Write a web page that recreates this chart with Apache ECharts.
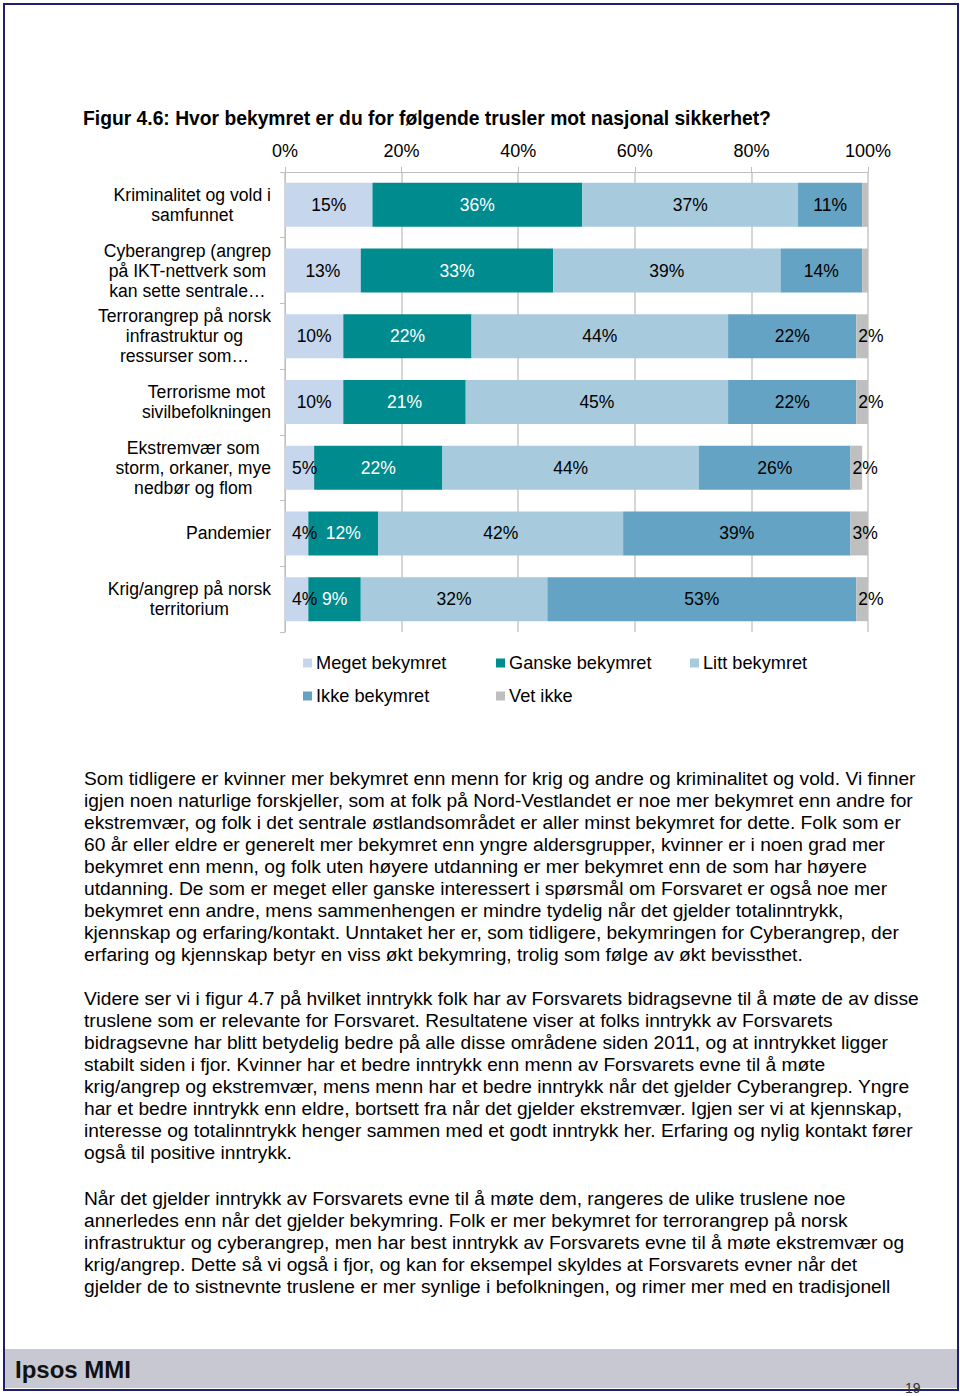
<!DOCTYPE html>
<html>
<head>
<meta charset="utf-8">
<script src="https://cdn.jsdelivr.net/npm/echarts@6/dist/echarts.min.js"></script>
<style>
  html, body { margin: 0; padding: 0; background: #fff; }
  #page { position: relative; width: 960px; height: 1396px; overflow: hidden; font-family: "Liberation Sans", Arial, sans-serif; }
  #chart { position: absolute; left: 0; top: 0; width: 960px; height: 1396px; }
  .border { position: absolute; left: 3px; top: 3px; width: 952px; height: 1384px; border: 2px solid #1f1f6a; box-sizing: content-box; }
  .footer { position: absolute; left: 5px; top: 1349px; width: 952px; height: 39px; background: #c7c8d2; }
  .ipsos { position: absolute; left: 15px; top: 1356px; font-size: 24px; font-weight: bold; color: #111; }
  .pnum { position: absolute; left: 905px; top: 1380px; font-size: 14px; color: #333; }
  .para { position: absolute; left: 84px; font-size: 19.2px; line-height: 22px; color: #000; white-space: nowrap; }
</style>
</head>
<body>
<div id="page">
  <div class="border"></div>
  <div class="footer"></div>
  <div class="ipsos">Ipsos MMI</div>
  <div class="pnum">19</div>
  <div id="chart"></div>
  <div class="para" style="top:768px">Som tidligere er kvinner mer bekymret enn menn for krig og andre og kriminalitet og vold. Vi finner<br>igjen noen naturlige forskjeller, som at folk på Nord-Vestlandet er noe mer bekymret enn andre for<br>ekstremvær, og folk i det sentrale østlandsområdet er aller minst bekymret for dette. Folk som er<br>60 år eller eldre er generelt mer bekymret enn yngre aldersgrupper, kvinner er i noen grad mer<br>bekymret enn menn, og folk uten høyere utdanning er mer bekymret enn de som har høyere<br>utdanning. De som er meget eller ganske interessert i spørsmål om Forsvaret er også noe mer<br>bekymret enn andre, mens sammenhengen er mindre tydelig når det gjelder totalinntrykk,<br>kjennskap og erfaring/kontakt. Unntaket her er, som tidligere, bekymringen for Cyberangrep, der<br>erfaring og kjennskap betyr en viss økt bekymring, trolig som følge av økt bevissthet.</div>
  <div class="para" style="top:988px">Videre ser vi i figur 4.7 på hvilket inntrykk folk har av Forsvarets bidragsevne til å møte de av disse<br>truslene som er relevante for Forsvaret. Resultatene viser at folks inntrykk av Forsvarets<br>bidragsevne har blitt betydelig bedre på alle disse områdene siden 2011, og at inntrykket ligger<br>stabilt siden i fjor. Kvinner har et bedre inntrykk enn menn av Forsvarets evne til å møte<br>krig/angrep og ekstremvær, mens menn har et bedre inntrykk når det gjelder Cyberangrep. Yngre<br>har et bedre inntrykk enn eldre, bortsett fra når det gjelder ekstremvær. Igjen ser vi at kjennskap,<br>interesse og totalinntrykk henger sammen med et godt inntrykk her. Erfaring og nylig kontakt fører<br>også til positive inntrykk.</div>
  <div class="para" style="top:1188px">Når det gjelder inntrykk av Forsvarets evne til å møte dem, rangeres de ulike truslene noe<br>annerledes enn når det gjelder bekymring. Folk er mer bekymret for terrorangrep på norsk<br>infrastruktur og cyberangrep, men har best inntrykk av Forsvarets evne til å møte ekstremvær og<br>krig/angrep. Dette så vi også i fjor, og kan for eksempel skyldes at Forsvarets evner når det<br>gjelder de to sistnevnte truslene er mer synlige i befolkningen, og rimer mer med en tradisjonell</div>
</div>
<script>
const titleText = 'Figur 4.6: Hvor bekymret er du for følgende trusler mot nasjonal sikkerhet?';
const categories = [
  'Kriminalitet og vold i\nsamfunnet',
  'Cyberangrep (angrep\npå IKT-nettverk som\nkan sette sentrale…',
  'Terrorangrep på norsk\ninfrastruktur og\nressurser som…',
  'Terrorisme mot\nsivilbefolkningen',
  'Ekstremvær som\nstorm, orkaner, mye\nnedbør og flom',
  'Pandemier',
  'Krig/angrep på norsk\nterritorium'
];
const seriesNames = ['Meget bekymret', 'Ganske bekymret', 'Litt bekymret', 'Ikke bekymret', 'Vet ikke'];
const meget  = [15, 13, 10, 10, 5, 4, 4];
const ganske = [36, 33, 22, 21, 22, 12, 9];
const litt   = [37, 39, 44, 45, 44, 42, 32];
const ikke   = [11, 14, 22, 22, 26, 39, 53];
const vetIkke = [1, 1, 2, 2, 2, 3, 2];

const colors = ['#c6d6ec', '#008b8e', '#a7cadd', '#64a3c3', '#bfbfbf'];
const labelColors = ['#000', '#fff', '#000', '#000', '#000'];
const values = [meget, ganske, litt, ikke, vetIkke];
const FONT = '"Liberation Sans", Arial, sans-serif';

const chart = echarts.init(document.getElementById('chart'), null, { renderer: 'svg' });

const series = seriesNames.map((name, i) => ({
  name: name,
  type: 'bar',
  stack: 'total',
  barCategoryGap: '33%',
  itemStyle: { color: colors[i] },
  label: {
    show: true,
    position: i === 4 ? 'insideLeft' : 'inside',
    distance: 2,
    color: labelColors[i],
    fontFamily: FONT,
    fontSize: 17.5,
    formatter: p => (i === 4 && p.value < 2) ? '' : p.value + '%'
  },
  emphasis: { disabled: true },
  // narrow first segments: label anchored near the left edge, as in the source
  data: values[i].map(v => (i === 0 && v < 8)
    ? { value: v, label: { position: 'insideLeft', distance: 7 } }
    : v)
}));

const legendPos = [[298, 649], [491, 649], [685, 649], [298, 682], [491, 682]];
const legends = seriesNames.map((n, i) => ({
  data: [n],
  left: legendPos[i][0],
  top: legendPos[i][1],
  icon: 'rect',
  itemWidth: 9,
  itemHeight: 9,
  itemGap: 0,
  selectedMode: false,
  textStyle: { fontFamily: FONT, fontSize: 18.2, color: '#000', padding: [0, 0, 0, -1] }
}));

chart.setOption({
  animation: false,
  color: colors,
  title: {
    text: titleText,
    left: 78,
    top: 104,
    textStyle: { fontFamily: FONT, fontSize: 19.3, fontWeight: 'bold', color: '#000' }
  },
  legend: legends,
  grid: { left: 285, right: 92, top: 172, height: 460 },
  xAxis: {
    type: 'value',
    position: 'top',
    min: 0, max: 100, interval: 20,
    axisLine: { show: true, lineStyle: { color: '#bfbfbf', width: 1 } },
    axisTick: { show: true, length: 5, inside: false, lineStyle: { color: '#bfbfbf' } },
    splitLine: { show: true, lineStyle: { color: '#c8c8c8', width: 1.5 } },
    axisLabel: { formatter: '{value}%', margin: 12, fontFamily: FONT, fontSize: 18, color: '#000' }
  },
  yAxis: {
    type: 'category',
    inverse: true,
    data: categories,
    axisLine: { show: true, lineStyle: { color: '#bfbfbf', width: 1 } },
    axisTick: { show: true, length: 5, lineStyle: { color: '#bfbfbf' } },
    axisLabel: {
      margin: 14,
      align: 'right',
      fontFamily: FONT,
      fontSize: 17.6,
      color: '#000',
      lineHeight: 20,
      formatter: v => v.split('\n').map(s => '{c|' + s + '}').join('\n'),
      rich: { c: { align: 'center', fontFamily: FONT, fontSize: 17.6, lineHeight: 20, color: '#000' } }
    }
  },
  series: series
});
</script>
</body>
</html>
